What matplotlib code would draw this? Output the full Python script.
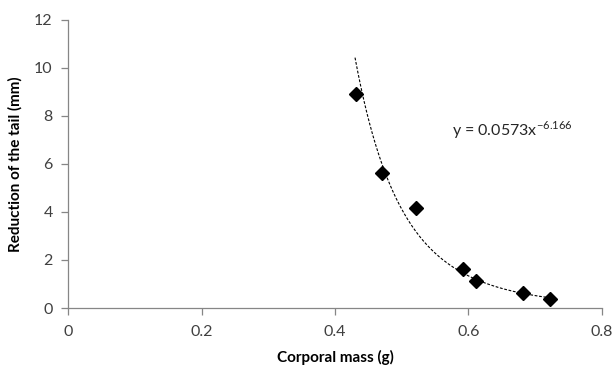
import numpy as np
import matplotlib
matplotlib.use("Agg")
import matplotlib.pyplot as plt

mass = [0.431, 0.471, 0.522, 0.592, 0.612, 0.681, 0.722]
reduction = [8.90, 5.64, 4.15, 1.61, 1.14, 0.64, 0.39]
coef_a = 0.0573
coef_b = -6.166
x_ticks = [0, 0.2, 0.4, 0.6, 0.8]
y_ticks = [0, 2, 4, 6, 8, 10, 12]

plt.rcParams['font.family'] = ['Lato', 'DejaVu Sans']

fig = plt.figure(figsize=(6.13, 3.68), dpi=100)
ax = fig.add_axes([0.111, 0.163, 0.871, 0.783])

xs = np.linspace(min(mass) - 0.001, max(mass), 200)
ax.plot(xs, coef_a * xs ** coef_b, color='black', lw=0.8, ls=(0, (2.5, 1.5)), zorder=2)
ax.plot(mass, reduction, ls='none', marker='D', ms=7.5, color='black', zorder=3)

ax.set_xlim(0, 0.8)
ax.set_ylim(0, 12)
ax.set_xticks(x_ticks)
ax.set_xticklabels([f"{v:g}" for v in x_ticks])
ax.set_yticks(y_ticks)

for s in ['top', 'right']:
    ax.spines[s].set_visible(False)
for s in ['left', 'bottom']:
    ax.spines[s].set_color('#868686')
    ax.spines[s].set_linewidth(0.9)
ax.tick_params(axis='both', colors='#868686', labelcolor='#404040', labelsize=11.5, length=5, width=0.9)
ax.tick_params(axis='x', pad=7)
ax.tick_params(axis='y', pad=6)

ax.set_xlabel('Corporal mass (g)', fontsize=11, fontweight='bold', color='black', labelpad=8)
ax.set_ylabel('Reduction of the tail (mm)', fontsize=11, fontweight='bold', color='black', labelpad=8)

ax.text(0.575, 7.4, r'y = 0.0573x$^{\mathregular{-6.166}}$', fontsize=11.5, color='#262626', va='center', ha='left')

fig.savefig('out.png', dpi=100)
